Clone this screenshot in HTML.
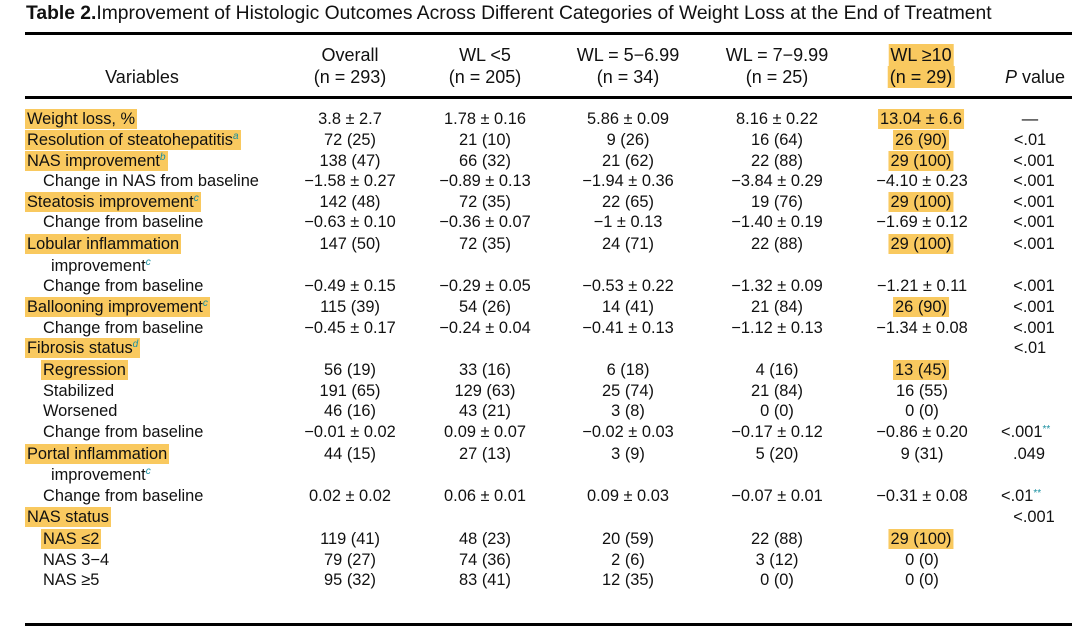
<!DOCTYPE html>
<html><head><meta charset="utf-8"><style>
body{margin:0;width:1080px;height:633px;background:#fff;position:relative;overflow:hidden;font-family:"Liberation Sans",Arial,sans-serif;color:#111;font-size:16.4px}
.t{position:absolute;left:26px;top:3px;font-size:19.3px;white-space:nowrap}
.ln{position:absolute;left:25px;width:1047px;height:3px;background:#000}
.c{position:absolute;transform:translateX(-50%);white-space:nowrap;line-height:20px;text-align:center}
.hd{font-size:18px;line-height:22px}
.l{position:absolute;white-space:nowrap;line-height:20px}
.h{background:#f9c95f;padding:1px 2px;margin-left:-2px}
sup{font-size:10px;color:#1a8fa0;font-style:italic;vertical-align:6px;line-height:0}
.s{font-size:10px;color:#1a8fa0;vertical-align:5px;line-height:0}
</style></head><body>
<div class="t"><b>Table 2.</b>Improvement of Histologic Outcomes Across Different Categories of Weight Loss at the End of Treatment</div>
<div class="ln" style="top:32px"></div>
<div class="ln" style="top:96px"></div>
<div class="ln" style="top:623px"></div>

<div class="c hd" style="left:142px;top:66px">Variables</div>
<div class="c hd" style="left:350px;top:44px">Overall<br>(n = 293)</div>
<div class="c hd" style="left:485px;top:44px">WL &lt;5<br>(n = 205)</div>
<div class="c hd" style="left:628px;top:44px">WL = 5−6.99<br>(n = 34)</div>
<div class="c hd" style="left:777px;top:44px">WL = 7−9.99<br>(n = 25)</div>
<div class="c hd" style="left:922px;top:44px"><span class="h">WL ≥10</span><br><span class="h">(n = 29)</span></div>
<div class="c hd" style="left:1035px;top:66px"><i>P</i> value</div>

<div class="l" style="left:27px;top:109px"><span class="h">Weight loss, %</span></div>
<div class="c" style="left:350px;top:109px">3.8 ± 2.7</div><div class="c" style="left:485px;top:109px">1.78 ± 0.16</div><div class="c" style="left:628px;top:109px">5.86 ± 0.09</div><div class="c" style="left:777px;top:109px">8.16 ± 0.22</div><div class="c" style="left:922px;top:109px"><span class="h">13.04 ± 6.6</span></div><div class="c" style="left:1030px;top:109px">—</div>

<div class="l" style="left:27px;top:130px"><span class="h">Resolution of steatohepatitis<sup>a</sup></span></div>
<div class="c" style="left:350px;top:130px">72 (25)</div><div class="c" style="left:485px;top:130px">21 (10)</div><div class="c" style="left:628px;top:130px">9 (26)</div><div class="c" style="left:777px;top:130px">16 (64)</div><div class="c" style="left:922px;top:130px"><span class="h">26 (90)</span></div><div class="c" style="left:1030px;top:130px">&lt;.01</div>

<div class="l" style="left:27px;top:151px"><span class="h">NAS improvement<sup>b</sup></span></div>
<div class="c" style="left:350px;top:151px">138 (47)</div><div class="c" style="left:485px;top:151px">66 (32)</div><div class="c" style="left:628px;top:151px">21 (62)</div><div class="c" style="left:777px;top:151px">22 (88)</div><div class="c" style="left:922px;top:151px"><span class="h">29 (100)</span></div><div class="c" style="left:1034px;top:151px">&lt;.001</div>

<div class="l" style="left:43px;top:171px">Change in NAS from baseline</div>
<div class="c" style="left:350px;top:171px">−1.58 ± 0.27</div><div class="c" style="left:485px;top:171px">−0.89 ± 0.13</div><div class="c" style="left:628px;top:171px">−1.94 ± 0.36</div><div class="c" style="left:777px;top:171px">−3.84 ± 0.29</div><div class="c" style="left:922px;top:171px">−4.10 ± 0.23</div><div class="c" style="left:1034px;top:171px">&lt;.001</div>

<div class="l" style="left:27px;top:192px"><span class="h">Steatosis improvement<sup>c</sup></span></div>
<div class="c" style="left:350px;top:192px">142 (48)</div><div class="c" style="left:485px;top:192px">72 (35)</div><div class="c" style="left:628px;top:192px">22 (65)</div><div class="c" style="left:777px;top:192px">19 (76)</div><div class="c" style="left:922px;top:192px"><span class="h">29 (100)</span></div><div class="c" style="left:1034px;top:192px">&lt;.001</div>

<div class="l" style="left:43px;top:212px">Change from baseline</div>
<div class="c" style="left:350px;top:212px">−0.63 ± 0.10</div><div class="c" style="left:485px;top:212px">−0.36 ± 0.07</div><div class="c" style="left:628px;top:212px">−1 ± 0.13</div><div class="c" style="left:777px;top:212px">−1.40 ± 0.19</div><div class="c" style="left:922px;top:212px">−1.69 ± 0.12</div><div class="c" style="left:1034px;top:212px">&lt;.001</div>

<div class="l" style="left:27px;top:234px"><span class="h">Lobular inflammation</span></div>
<div class="c" style="left:350px;top:234px">147 (50)</div><div class="c" style="left:485px;top:234px">72 (35)</div><div class="c" style="left:628px;top:234px">24 (71)</div><div class="c" style="left:777px;top:234px">22 (88)</div><div class="c" style="left:922px;top:234px"><span class="h">29 (100)</span></div><div class="c" style="left:1034px;top:234px">&lt;.001</div>
<div class="l" style="left:51px;top:256px">improvement<sup>c</sup></div>

<div class="l" style="left:43px;top:276px">Change from baseline</div>
<div class="c" style="left:350px;top:276px">−0.49 ± 0.15</div><div class="c" style="left:485px;top:276px">−0.29 ± 0.05</div><div class="c" style="left:628px;top:276px">−0.53 ± 0.22</div><div class="c" style="left:777px;top:276px">−1.32 ± 0.09</div><div class="c" style="left:922px;top:276px">−1.21 ± 0.11</div><div class="c" style="left:1034px;top:276px">&lt;.001</div>

<div class="l" style="left:27px;top:297px"><span class="h">Ballooning improvement<sup>c</sup></span></div>
<div class="c" style="left:350px;top:297px">115 (39)</div><div class="c" style="left:485px;top:297px">54 (26)</div><div class="c" style="left:628px;top:297px">14 (41)</div><div class="c" style="left:777px;top:297px">21 (84)</div><div class="c" style="left:922px;top:297px"><span class="h">26 (90)</span></div><div class="c" style="left:1034px;top:297px">&lt;.001</div>

<div class="l" style="left:43px;top:318px">Change from baseline</div>
<div class="c" style="left:350px;top:318px">−0.45 ± 0.17</div><div class="c" style="left:485px;top:318px">−0.24 ± 0.04</div><div class="c" style="left:628px;top:318px">−0.41 ± 0.13</div><div class="c" style="left:777px;top:318px">−1.12 ± 0.13</div><div class="c" style="left:922px;top:318px">−1.34 ± 0.08</div><div class="c" style="left:1034px;top:318px">&lt;.001</div>

<div class="l" style="left:27px;top:338px"><span class="h">Fibrosis status<sup>d</sup></span></div>
<div class="c" style="left:1030px;top:338px">&lt;.01</div>

<div class="l" style="left:43px;top:360px"><span class="h">Regression</span></div>
<div class="c" style="left:350px;top:360px">56 (19)</div><div class="c" style="left:485px;top:360px">33 (16)</div><div class="c" style="left:628px;top:360px">6 (18)</div><div class="c" style="left:777px;top:360px">4 (16)</div><div class="c" style="left:922px;top:360px"><span class="h">13 (45)</span></div>

<div class="l" style="left:43px;top:381px">Stabilized</div>
<div class="c" style="left:350px;top:381px">191 (65)</div><div class="c" style="left:485px;top:381px">129 (63)</div><div class="c" style="left:628px;top:381px">25 (74)</div><div class="c" style="left:777px;top:381px">21 (84)</div><div class="c" style="left:922px;top:381px">16 (55)</div>

<div class="l" style="left:43px;top:401px">Worsened</div>
<div class="c" style="left:350px;top:401px">46 (16)</div><div class="c" style="left:485px;top:401px">43 (21)</div><div class="c" style="left:628px;top:401px">3 (8)</div><div class="c" style="left:777px;top:401px">0 (0)</div><div class="c" style="left:922px;top:401px">0 (0)</div>

<div class="l" style="left:43px;top:422px">Change from baseline</div>
<div class="c" style="left:350px;top:422px">−0.01 ± 0.02</div><div class="c" style="left:485px;top:422px">0.09 ± 0.07</div><div class="c" style="left:628px;top:422px">−0.02 ± 0.03</div><div class="c" style="left:777px;top:422px">−0.17 ± 0.12</div><div class="c" style="left:922px;top:422px">−0.86 ± 0.20</div><div class="l" style="left:1001px;top:422px">&lt;.001<span class="s">**</span></div>

<div class="l" style="left:27px;top:444px"><span class="h">Portal inflammation</span></div>
<div class="c" style="left:350px;top:444px">44 (15)</div><div class="c" style="left:485px;top:444px">27 (13)</div><div class="c" style="left:628px;top:444px">3 (9)</div><div class="c" style="left:777px;top:444px">5 (20)</div><div class="c" style="left:922px;top:444px">9 (31)</div><div class="c" style="left:1029px;top:444px">.049</div>
<div class="l" style="left:51px;top:465px">improvement<sup>c</sup></div>

<div class="l" style="left:43px;top:486px">Change from baseline</div>
<div class="c" style="left:350px;top:486px">0.02 ± 0.02</div><div class="c" style="left:485px;top:486px">0.06 ± 0.01</div><div class="c" style="left:628px;top:486px">0.09 ± 0.03</div><div class="c" style="left:777px;top:486px">−0.07 ± 0.01</div><div class="c" style="left:922px;top:486px">−0.31 ± 0.08</div><div class="l" style="left:1001px;top:486px">&lt;.01<span class="s">**</span></div>

<div class="l" style="left:27px;top:507px"><span class="h">NAS status</span></div>
<div class="c" style="left:1034px;top:507px">&lt;.001</div>

<div class="l" style="left:43px;top:529px"><span class="h">NAS ≤2</span></div>
<div class="c" style="left:350px;top:529px">119 (41)</div><div class="c" style="left:485px;top:529px">48 (23)</div><div class="c" style="left:628px;top:529px">20 (59)</div><div class="c" style="left:777px;top:529px">22 (88)</div><div class="c" style="left:922px;top:529px"><span class="h">29 (100)</span></div>

<div class="l" style="left:43px;top:550px">NAS 3−4</div>
<div class="c" style="left:350px;top:550px">79 (27)</div><div class="c" style="left:485px;top:550px">74 (36)</div><div class="c" style="left:628px;top:550px">2 (6)</div><div class="c" style="left:777px;top:550px">3 (12)</div><div class="c" style="left:922px;top:550px">0 (0)</div>

<div class="l" style="left:43px;top:570px">NAS ≥5</div>
<div class="c" style="left:350px;top:570px">95 (32)</div><div class="c" style="left:485px;top:570px">83 (41)</div><div class="c" style="left:628px;top:570px">12 (35)</div><div class="c" style="left:777px;top:570px">0 (0)</div><div class="c" style="left:922px;top:570px">0 (0)</div>
</body></html>
